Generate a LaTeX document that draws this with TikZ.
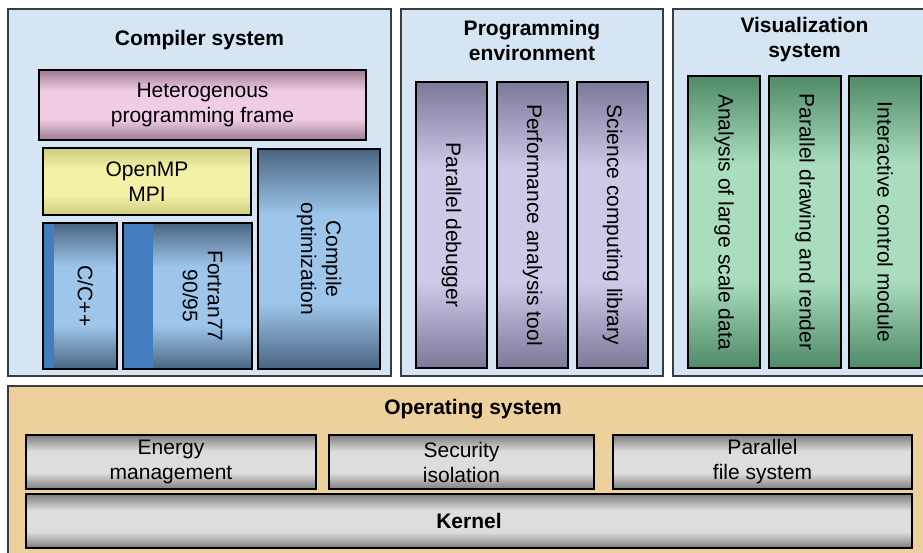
\documentclass[tikz,border=0pt]{standalone}
\usepackage{fontspec}
\setmainfont{Liberation Sans}
\usepackage{xcolor}
\usetikzlibrary{positioning}

\definecolor{panelblue}{HTML}{D5E5F3}
\definecolor{panelline}{HTML}{3C3C3C}
\definecolor{osfill}{HTML}{EDD09C}
\definecolor{stripeblue}{HTML}{437DC0}
\definecolor{pinkedge}{HTML}{9C7B93}
\definecolor{pinkmid}{HTML}{F0CDE2}
\definecolor{yellowedge}{HTML}{CDCB80}
\definecolor{yellowmid}{HTML}{F3F1A6}
\definecolor{blueedge}{HTML}{4A6482}
\definecolor{bluemid}{HTML}{9DC6EA}
\definecolor{purpleedge}{HTML}{7C7898}
\definecolor{purplemid}{HTML}{CEC9E7}
\definecolor{greenedge}{HTML}{4F8A69}
\definecolor{greenmid}{HTML}{A9DDBD}
\definecolor{grayedge}{HTML}{7E7E7E}
\definecolor{graymid}{HTML}{DDDDDD}
\colorlet{edgecol}{gray}
\colorlet{midcol}{white}

% dark edges, flat light middle
\pgfdeclareverticalshading[edgecol,midcol]{bar}{100bp}{color(0bp)=(edgecol); color(25bp)=(edgecol); color(40bp)=(midcol); color(60bp)=(midcol); color(75bp)=(edgecol); color(100bp)=(edgecol)}

\tikzset{
  panel/.style={draw=panelline, line width=1.5pt, fill=panelblue, inner sep=0pt},
  title/.style={font=\fontsize{21}{25}\selectfont\bfseries, align=center},
  bar/.style={shading=bar, /utils/exec={\colorlet{edgecol}{#1edge}\colorlet{midcol}{#1mid}}},
  block/.style={draw=black, line width=1.2pt, inner sep=0pt, align=center,
    font=\fontsize{21}{25}\selectfont},
  roll/.style={block, rotate=-90}
}

\begin{document}
\begin{tikzpicture}[x=1pt, y=-1pt]
\useasboundingbox (0,0) rectangle (923,552);
\clip (0,0) rectangle (923,552);
% upper panels
\node[panel, minimum width=383, minimum height=367] (comp) at (199.5,192.5) {};
\node[panel, minimum width=262, minimum height=367] (prog) at (532,192.5) {};
\node[panel, minimum width=263, minimum height=367] (vis) at (804.5,192.5) {};
\node[title] (comptitle) at (199.5,40) {Compiler system};
\node[title] (progtitle) at (532,40) {Programming\\environment};
\node[title] (vistitle) at (804.5,40) {Visualization\\system};
% compiler system
\node[block, bar=pink, minimum width=327, minimum height=70] (frame) at (202.5,105) {Heterogenous\\programming frame};
\node[block, bar=yellow, minimum width=208, minimum height=67] (mpi) at (147,181.5) {OpenMP\\MPI};
\node[roll, bar=blue, minimum width=220, minimum height=122] (copt) at (319,259) {Compile\\optimization};
\node[roll, draw=none, bar=blue, minimum width=146, minimum height=63] (ccpp) at (85.5,296) {C/C++};
\node[roll, draw=none, bar=blue, minimum width=146, minimum height=99] (fort) at (202.5,296) {Fortran77\\90/95};
\fill[stripeblue] (43,223) rectangle (54,369);
\fill[stripeblue] (123,223) rectangle (153,369);
\draw[line width=1.2pt] (43,223) rectangle (117,369);
\draw[line width=1.2pt] (123,223) rectangle (252,369);
% programming environment
\node[roll, bar=purple, minimum width=286, minimum height=71] (debug) at (451.5,225) {Parallel debugger};
\node[roll, bar=purple, minimum width=286, minimum height=71] (perf) at (532.5,225) {Performance analysis tool};
\node[roll, bar=purple, minimum width=286, minimum height=71] (sci) at (612.5,225) {Science computing library};
% visualization system
\node[roll, bar=green, minimum width=292, minimum height=72] (large) at (724,222) {Analysis of large scale data};
\node[roll, bar=green, minimum width=292, minimum height=72] (render) at (805,222) {Parallel drawing and render};
\node[roll, bar=green, minimum width=292, minimum height=72] (ctrl) at (885,222) {Interactive control module};
% operating system
\node[panel, fill=osfill, minimum width=930, minimum height=180] (os) at (473,476) {};
\node[title] (ostitle) at (473,409) {Operating system};
\node[block, bar=gray, minimum width=290, minimum height=54] (energy) at (171,462) {Energy\\management};
\node[block, bar=gray, minimum width=265, minimum height=54] (secur) at (461.5,462) {Security\\isolation};
\node[block, bar=gray, minimum width=299, minimum height=54] (pfs) at (762.5,462) {Parallel\\file system};
\node[block, bar=gray, minimum width=886, minimum height=54, font=\fontsize{21}{25}\selectfont\bfseries] (kernel) at (469,521) {Kernel};
\end{tikzpicture}
\end{document}
